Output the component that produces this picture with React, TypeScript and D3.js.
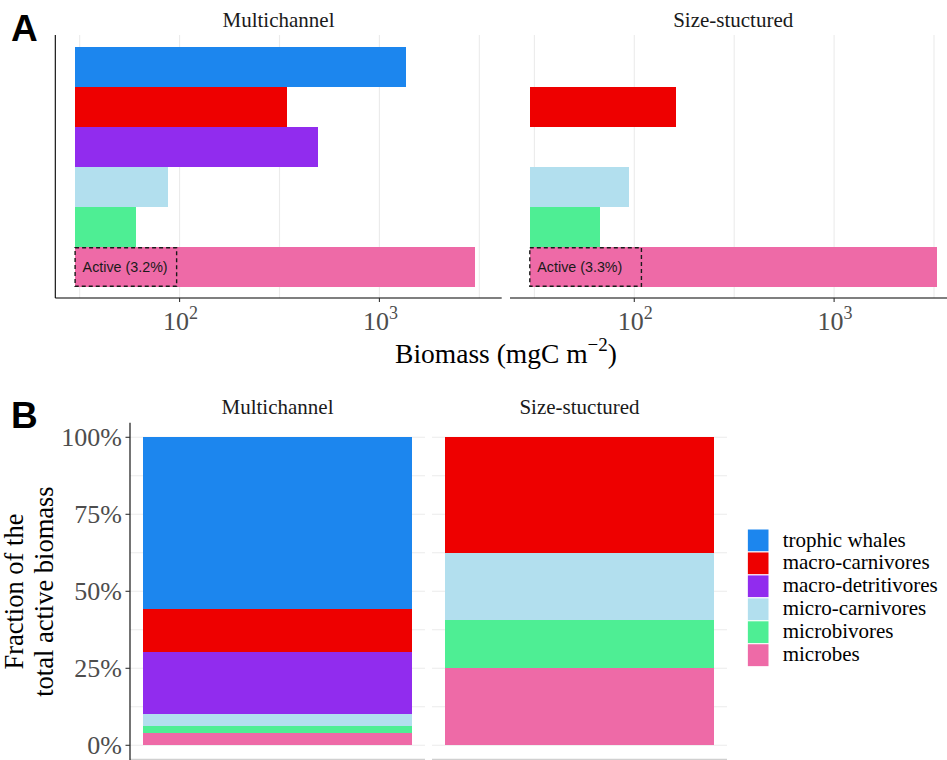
import React from "react";
import * as d3 from "d3";

// ---------- data ----------
const categories = [
  "trophic whales",
  "macro-carnivores",
  "macro-detritivores",
  "micro-carnivores",
  "microbivores",
  "microbes",
];
const colors = ["#1C86EE", "#EE0000", "#912CEE", "#B2DFEE", "#4EEE94", "#EE6AA7"];
const models = ["Multichannel", "Size-stuctured"];
// biomass (mgC m^-2) per category, null = absent
const multichannel: (number | null)[] = [1365, 346, 494, 87.8, 60.7, 3020];
const sizeStructured: (number | null)[] = [null, 161, null, 93.6, 67.1, 3290];
const activePct = [3.2, 3.3];
const barBase = 30;
const xTickValues = [100, 1000];
const xTickExps = ["2", "3"];
const xGridValues = [10 ** 1.5, 100, 10 ** 2.5, 1000, 10 ** 3.5];
const yTickValues = [0, 0.25, 0.5, 0.75, 1];
const yTickLabels = ["0%", "25%", "50%", "75%", "100%"];
const yGridMinor = [0.125, 0.375, 0.625, 0.875];

const seriesByModel = [multichannel, sizeStructured];

const SERIF = "'Liberation Serif', 'Times New Roman', serif";
const SANS = "'Liberation Sans', Arial, sans-serif";
const GRID = "#EBEBEB";

export default function App() {
  // ---------- panel A ----------
  const aTop = 35;
  const aBottom = 298;
  const aPanelX = [55.3, 510];
  const aPanelW = 446.4;
  const x = d3.scaleLog().domain([10 ** 1.378, 10 ** 3.612]).range([0, aPanelW]);
  const yBand = d3.scaleBand<string>().domain(categories).range([47, 287]).padding(0);

  // ---------- panel B ----------
  const bPanelX = [130, 432];
  const bPanelW = 295;
  const yB = d3.scaleLinear().domain([-0.05, 1.05]).range([760.7, 421.9]);
  const xB = d3.scaleBand<string>().domain(["all"]).range([0, bPanelW]).paddingOuter(0.05).paddingInner(0);

  // fractions of active biomass
  const stackRows = seriesByModel.map((vals, mi) => {
    const row: Record<string, number> = {};
    categories.forEach((c, i) => {
      let v = vals[i] ?? 0;
      if (c === "microbes") v = v * activePct[mi] / 100;
      row[c] = v;
    });
    const total = d3.sum(categories, (c) => row[c]);
    categories.forEach((c) => (row[c] = row[c] / total));
    return row;
  });
  const stackKeys = categories.slice().reverse();
  const stacked = d3.stack<Record<string, number>>().keys(stackKeys)(stackRows);

  const legendTop = 529;
  const legendStep = 22.95;

  return (
    <svg
      width={947}
      height={760}
      style={{ position: "absolute", left: 0, top: 0, display: "block", background: "#fff" }}
    >
      {/* Panel labels */}
      <text x={11} y={40.5} fontFamily={SANS} fontWeight="bold" fontSize={37} fill="#000">A</text>
      <text x={11} y={428} fontFamily={SANS} fontWeight="bold" fontSize={37} fill="#000">B</text>

      {/* ---------- Panel A ---------- */}
      {models.map((m, mi) => {
        const px = aPanelX[mi];
        const vals = seriesByModel[mi];
        const microbesIdx = categories.indexOf("microbes");
        const activeVal = (vals[microbesIdx] ?? 0) * activePct[mi] / 100;
        return (
          <g key={m} transform={`translate(${px},0)`}>
            <text x={aPanelW / 2} y={27} textAnchor="middle" fontFamily={SERIF} fontSize={21} fill="#1A1A1A">{m}</text>
            {xGridValues.map((g, i) => (
              <line key={i} x1={x(g)} x2={x(g)} y1={aTop} y2={aBottom} stroke={GRID} strokeWidth={1.1} />
            ))}
            {categories.map((c, i) =>
              vals[i] == null ? null : (
                <rect
                  key={c}
                  x={x(barBase)}
                  width={x(vals[i] as number) - x(barBase)}
                  y={yBand(c)}
                  height={yBand.bandwidth()}
                  fill={colors[i]}
                  shapeRendering="crispEdges"
                />
              )
            )}
            <rect
              x={x(barBase)}
              y={(yBand("microbes") as number) + 0.7}
              width={x(activeVal) - x(barBase)}
              height={yBand.bandwidth() - 1.4}
              fill="none"
              stroke="#1A1A1A"
              strokeWidth={1.4}
              strokeDasharray="4,3"
            />
            <text
              x={x(barBase) + 7.5}
              y={(yBand("microbes") as number) + yBand.bandwidth() / 2 + 5}
              fontFamily={SANS}
              fontSize={14.3}
              fill="#1A1A1A"
            >
              {`Active (${activePct[mi].toFixed(1)}%)`}
            </text>
            {/* axes */}
            <line x1={0} x2={aPanelW} y1={aBottom} y2={aBottom} stroke="#000" strokeWidth={1.1} />
            {mi === 0 && <line x1={0} x2={0} y1={aTop} y2={aBottom} stroke="#000" strokeWidth={1.1} />}
            {xTickValues.map((t, i) => (
              <g key={t}>
                <line x1={x(t)} x2={x(t)} y1={aBottom} y2={aBottom + 4} stroke="#333" strokeWidth={1.1} />
                <text x={x(t) + 1} y={330} textAnchor="middle" fontFamily={SERIF} fontSize={26} fill="#4D4D4D">
                  10
                  <tspan dy={-11} fontSize={18}>{xTickExps[i]}</tspan>
                </text>
              </g>
            ))}
          </g>
        );
      })}
      <text x={506} y={363} textAnchor="middle" fontFamily={SERIF} fontSize={27.5} fill="#000">
        Biomass (mgC m
        <tspan dy={-12} fontSize={19}>−2</tspan>
        <tspan dy={12}>)</tspan>
      </text>

      {/* ---------- Panel B ---------- */}
      {models.map((m, mi) => {
        const px = bPanelX[mi];
        return (
          <g key={m} transform={`translate(${px},0)`}>
            <text x={bPanelW / 2} y={414} textAnchor="middle" fontFamily={SERIF} fontSize={21} fill="#1A1A1A">{m}</text>
            {yGridMinor.concat(yTickValues).map((g, i) => (
              <line key={i} x1={0} x2={bPanelW} y1={yB(g)} y2={yB(g)} stroke={GRID} strokeWidth={1.1} />
            ))}
            {stacked.map((s) => {
              const d = s[mi];
              const ci = categories.indexOf(s.key);
              if (d[1] - d[0] <= 0) return null;
              return (
                <rect
                  key={s.key}
                  x={xB("all")}
                  width={xB.bandwidth()}
                  y={yB(d[1])}
                  height={yB(d[0]) - yB(d[1])}
                  fill={colors[ci]}
                  shapeRendering="crispEdges"
                />
              );
            })}
            <line x1={0} x2={bPanelW} y1={759.3} y2={759.3} stroke="#D0D0D0" strokeWidth={1.2} />
            {mi === 0 && (
              <g>
                <line x1={0} x2={0} y1={422.7} y2={760} stroke="#000" strokeWidth={1.1} />
                {yTickValues.map((t, i) => (
                  <g key={t}>
                    <line x1={-4.5} x2={0} y1={yB(t)} y2={yB(t)} stroke="#333" strokeWidth={1.1} />
                    <text x={-8} y={yB(t) + 9} textAnchor="end" fontFamily={SERIF} fontSize={26} fill="#4D4D4D">
                      {yTickLabels[i]}
                    </text>
                  </g>
                ))}
              </g>
            )}
          </g>
        );
      })}
      <text transform="rotate(-90)" textAnchor="middle" fontFamily={SERIF} fontSize={26.5} fill="#000">
        <tspan x={-591.6} y={22.5}>Fraction of the</tspan>
        <tspan x={-591.6} y={52.5}>total active biomass</tspan>
      </text>

      {/* legend */}
      {categories.map((c, i) => (
        <g key={c}>
          <rect
            x={747.3}
            y={legendTop + i * legendStep}
            width={21.7}
            height={legendStep}
            fill={colors[i]}
            stroke="#fff"
            strokeWidth={1}
          />
          <text x={782.7} y={legendTop + i * legendStep + 17.5} fontFamily={SERIF} fontSize={21} fill="#000">
            {c}
          </text>
        </g>
      ))}
    </svg>
  );
}
